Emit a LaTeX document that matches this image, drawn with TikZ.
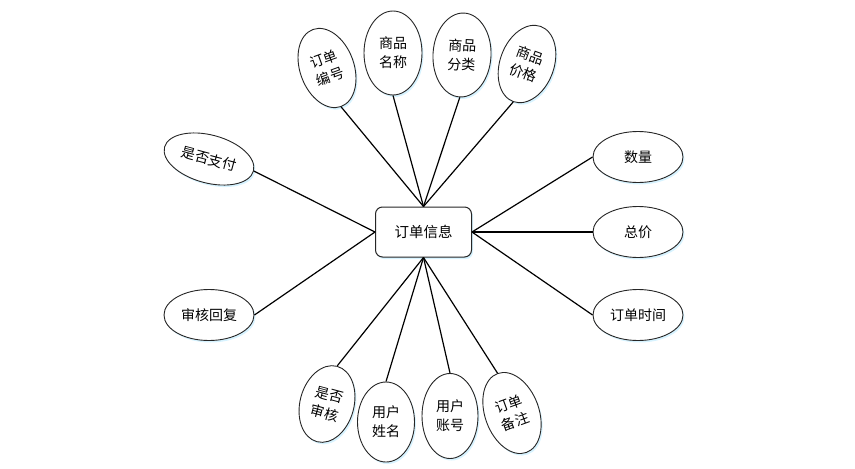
\documentclass[tikz,border=0pt]{standalone}
\usepackage{fontspec}
\newfontfamily\cjk{Noto Sans CJK SC}
\usetikzlibrary{shapes.geometric,shadows}
\begin{document}
\begin{tikzpicture}[x=1pt,y=-1pt,
  glow/.style={drop shadow={shadow xshift=1.5pt, shadow yshift=-2pt, fill=blue!30!cyan!35, opacity=0.45}},
  attr/.style={ellipse, draw=black!85, line width=0.9pt, fill=white, inner sep=0pt, align=center,
    font=\cjk\fontsize{14}{19}\selectfont, glow},
  vattr/.style={attr, minimum width=56pt, minimum height=83pt},
  hattr/.style={attr, minimum width=90pt, minimum height=51pt},
  entity/.style={rectangle, rounded corners=7pt, draw=black!85, line width=1pt, fill=white,
    minimum width=96pt, minimum height=50pt, inner sep=0pt, font=\cjk\fontsize{14.5}{17}\selectfont, glow},
  conn/.style={draw=black, line width=1.2pt}
]
\useasboundingbox (0,0) rectangle (855,469);

\node[entity] (box) at (423.5,232) {订单信息};

\node[vattr, rotate=20, minimum width=54pt, minimum height=82pt] (ddbh) at (327,68) {订单\\编号};
\node[vattr, minimum width=58pt, minimum height=84pt] (spmc) at (393,53) {商品\\名称};
\node[vattr, rotate=-3, minimum width=58pt, minimum height=84pt] (spfl) at (462,55) {商品\\分类};
\node[vattr, rotate=-20, minimum width=54pt, minimum height=80pt] (spjg) at (527,64) {商品\\价格};

\node[hattr, rotate=-15, minimum width=92pt, minimum height=48pt] (sfzf) at (209,159) {是否支付};
\node[hattr] (shhf) at (209,315) {审核回复};

\node[hattr] (sl) at (638,157) {数量};
\node[hattr] (zj) at (638,232) {总价};
\node[hattr] (ddsj) at (638,315) {订单时间};

\node[vattr, rotate=-15, minimum width=54pt, minimum height=78pt] (sfsh) at (327,404) {是否\\审核};
\node[vattr, minimum width=57pt, minimum height=80pt] (yhxm) at (386,422) {用户\\姓名};
\node[vattr, minimum width=56pt, minimum height=85pt] (yhzh) at (450,416) {用户\\账号};
\node[vattr, rotate=20, minimum width=54pt, minimum height=84pt] (ddbz) at (512,413) {订单\\备注};

\draw[conn] (ddbh.south) -- (box.north);
\draw[conn] (spmc.south) -- (box.north);
\draw[conn] (spfl.south) -- (box.north);
\draw[conn] (spjg.south) -- (box.north);
\draw[conn] (sfzf.east) -- (box.west);
\draw[conn] (shhf.east) -- (box.west);
\draw[conn] (sl.west) -- (box.east);
\draw[conn] (zj.west) -- (box.east);
\draw[conn] (ddsj.west) -- (box.east);
\draw[conn] (sfsh.north) -- (box.south);
\draw[conn] (yhxm.north) -- (box.south);
\draw[conn] (yhzh.north) -- (box.south);
\draw[conn] (ddbz.north) -- (box.south);
\end{tikzpicture}
\end{document}
